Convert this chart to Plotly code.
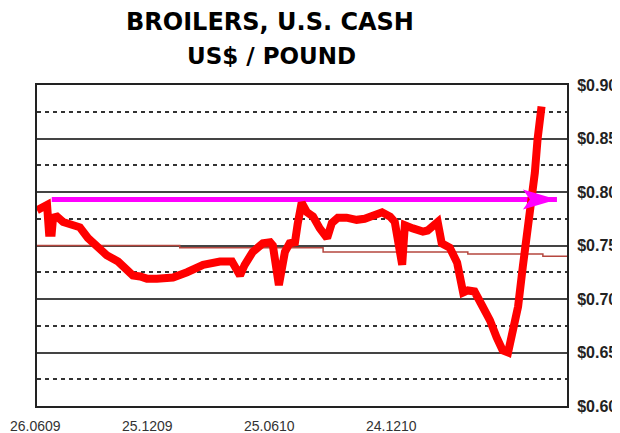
import plotly.graph_objects as go

# Broiler cash price (US$/lb)
dates = [
    "2009-06-26", "2009-07-05", "2009-07-11", "2009-07-14", "2009-07-18", "2009-07-20",
    "2009-07-26", "2009-08-04", "2009-08-17", "2009-08-29", "2009-09-10", "2009-09-24",
    "2009-10-08", "2009-10-25", "2009-11-07", "2009-11-16", "2009-11-27", "2009-12-07",
    "2009-12-22", "2010-01-06", "2010-01-15", "2010-02-05", "2010-03-01", "2010-03-26",
    "2010-04-13", "2010-04-25", "2010-05-02", "2010-05-14", "2010-05-29", "2010-06-09",
    "2010-06-13", "2010-06-22", "2010-07-01", "2010-07-08", "2010-07-16", "2010-07-20",
    "2010-07-26", "2010-08-03", "2010-08-12", "2010-08-22", "2010-09-02", "2010-09-09",
    "2010-09-18", "2010-10-01", "2010-10-16", "2010-10-28", "2010-11-09", "2010-11-23",
    "2010-12-05", "2010-12-12", "2010-12-23", "2010-12-27", "2011-01-08", "2011-01-23",
    "2011-01-30", "2011-02-10", "2011-02-14", "2011-02-20", "2011-03-04", "2011-03-15",
    "2011-03-24", "2011-03-31", "2011-04-10", "2011-04-22", "2011-05-03", "2011-05-13",
    "2011-05-22", "2011-05-30", "2011-06-06", "2011-06-14", "2011-06-21", "2011-07-02",
    "2011-07-09", "2011-07-13", "2011-07-19",
]
prices = [
    0.783, 0.787, 0.788, 0.762, 0.762, 0.776,
    0.777, 0.772, 0.770, 0.767, 0.757, 0.749,
    0.741, 0.735, 0.727, 0.722, 0.721, 0.719,
    0.719, 0.720, 0.720, 0.725, 0.732, 0.735,
    0.735, 0.722, 0.732, 0.744, 0.752, 0.753,
    0.750, 0.713, 0.744, 0.752, 0.753, 0.770,
    0.790, 0.781, 0.777, 0.766, 0.757, 0.771,
    0.776, 0.776, 0.774, 0.775, 0.778, 0.781,
    0.777, 0.772, 0.732, 0.769, 0.766, 0.763,
    0.764, 0.771, 0.772, 0.752, 0.748, 0.734,
    0.706, 0.708, 0.707, 0.693, 0.680, 0.664,
    0.652, 0.650, 0.671, 0.693, 0.730, 0.777,
    0.818, 0.849, 0.880,
]

# Long-term average (thin brown step line)
avg_dates = ["2009-06-26", "2010-01-25", "2010-08-27", "2011-03-31", "2011-07-21", "2011-08-26"]
avg_values = [0.750, 0.748, 0.744, 0.742, 0.740, 0.740]

# Magenta reference arrow
arrow_level = 0.793
arrow_start = "2009-07-18"
arrow_tip = "2011-08-11"

# Axis ticks
x_tick_dates = ["2009-06-26", "2009-12-25", "2010-06-25", "2010-12-24"]
x_tick_text = ["26.0609", "25.1209", "25.0610", "24.1210"]
y_ticks = [0.60, 0.65, 0.70, 0.75, 0.80, 0.85, 0.90]
y_tick_text = ["$0.60", "$0.65", "$0.70", "$0.75", "$0.80", "$0.85", "$0.90"]
x_range = ["2009-06-26", "2011-08-26"]
y_range = [0.60, 0.90]

fig = go.Figure()

fig.add_trace(go.Scatter(
    x=avg_dates, y=avg_values, mode="lines",
    line=dict(color="#b5473f", width=1.5, shape="hv"),
    hoverinfo="skip", showlegend=False,
))
fig.add_trace(go.Scatter(
    x=dates, y=prices, mode="lines",
    line=dict(color="#ff0000", width=8),
    showlegend=False,
))

# arrow shaft
fig.add_shape(type="line", xref="x", yref="y",
              x0=arrow_start, x1=arrow_tip, y0=arrow_level, y1=arrow_level,
              line=dict(color="#ff00ff", width=5), layer="between")
# arrow head (pixel-sized, anchored at the tip)
fig.add_shape(type="path", xref="x", yref="y",
              xsizemode="pixel", ysizemode="pixel",
              xanchor=arrow_tip, yanchor=arrow_level,
              path="M0,0 L-34,10 L-27,0 L-34,-10 Z",
              fillcolor="#ff00ff", line=dict(color="#ff00ff", width=0), layer="above")

# page body has an 8px margin, so the figure is laid out 8px smaller
L, T, PW, PH = 29, 77, 530, 321

fig.add_annotation(text="BROILERS, U.S. CASH", xref="paper", yref="paper",
                   x=(270 - 37) / PW, y=1 + (85 - 22) / PH, showarrow=False,
                   xanchor="center", yanchor="middle", borderpad=0,
                   font=dict(family="DejaVu Sans", size=24, color="#000", weight="bold"))
fig.add_annotation(text="US$ / POUND", xref="paper", yref="paper",
                   x=(271 - 37) / PW, y=1 + (85 - 56) / PH, showarrow=False,
                   xanchor="center", yanchor="middle",
                   font=dict(family="DejaVu Sans", size=23, color="#000", weight="bold"))

# date labels under the axis (first one kept inside the page)
for i, (d, t) in enumerate(zip(x_tick_dates, x_tick_text)):
    fig.add_annotation(
        text=t, x=d, xref="x", y=0, yref="paper", showarrow=False,
        xanchor="left" if i == 0 else "center", yanchor="top",
        xshift=-L if i == 0 else -11, yshift=-10,
        font=dict(family="Liberation Sans", size=14, color="#333"),
    )

fig.update_layout(
    width=612, height=425,
    margin=dict(l=L, r=612 - L - PW, t=T, b=425 - T - PH, autoexpand=False),
    paper_bgcolor="white", plot_bgcolor="white",
    showlegend=False,
)
fig.update_xaxes(
    type="date", range=x_range, automargin=False,
    showticklabels=False,
    showgrid=False, zeroline=False, ticks="",
    showline=True, linecolor="#222", linewidth=2, mirror=True,
)
fig.update_yaxes(
    side="right", range=y_range, automargin=False,
    tickmode="array", tickvals=y_ticks, ticktext=y_tick_text,
    showgrid=True, gridcolor="#444", gridwidth=1.5,
    minor=dict(tickmode="linear", tick0=0.625, dtick=0.05, showgrid=True,
               gridcolor="#333", gridwidth=1.5, griddash="4px,4px", ticks=""),
    zeroline=False, ticks="",
    showline=True, linecolor="#222", linewidth=2, mirror=True,
    ticklabelstandoff=5, ticklabeloverflow="allow",
    tickfont=dict(family="Liberation Sans", size=16, color="#222", weight="bold"),
)

fig.write_html("out.html")
